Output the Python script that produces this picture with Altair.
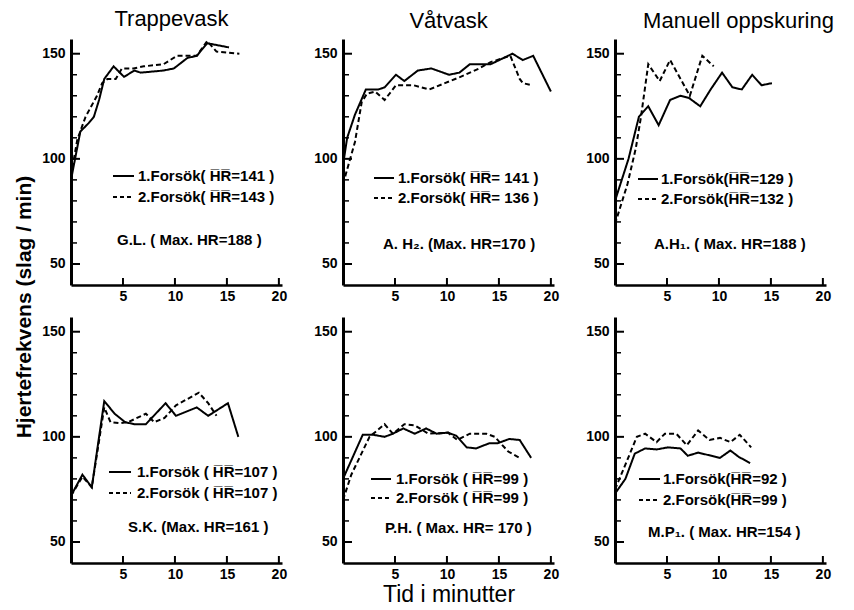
import altair as alt
import pandas as pd

FONT = "Liberation Sans"

# ---------------- data (minutes, beats/min) ----------------
# Trappevask  G.L.
gl_t1 = [0, 0.9, 1.7, 2.2, 2.7, 3.2, 4.1, 5.1, 6.1, 6.7, 8.9, 9.9, 11.2, 12.1, 13.1, 15.2]
gl_v1 = [90, 113, 117, 120, 128, 138, 144, 139, 142, 141, 142, 143, 148, 149, 155, 153]
gl_t2 = [0, 0.6, 1.4, 2.5, 3.0, 3.5, 4.3, 4.9, 6.0, 7.0, 8.9, 10.2, 12.1, 13.1, 14.0, 16.2]
gl_v2 = [92, 109, 120, 130, 136, 138, 138, 143, 143, 144, 145, 149, 149, 156, 151, 150]

# Vatvask  A.H2
ah2_t1 = [0, 0.4, 1.15, 2.2, 3.4, 4.0, 5.1, 5.9, 7.2, 8.5, 10.2, 11.2, 12.2, 14.2, 16.3, 17.3, 18.3, 20.0]
ah2_v1 = [97, 110, 121, 133, 133, 134, 140, 137, 142, 143, 140, 141, 145, 145, 150, 147, 149, 132]
ah2_t2 = [0, 1.15, 1.8, 2.3, 3.1, 4.0, 5.1, 6.8, 8.3, 9.8, 11.3, 13.1, 14.2, 16.1, 17.0, 17.3, 18.2]
ah2_v2 = [88, 108, 127, 131, 132, 128, 135, 135, 133, 136, 139, 143, 146, 149, 138, 136, 135]

# Manuell oppskuring  A.H1
ah1_t1 = [0, 1.3, 2.3, 3.2, 4.2, 5.3, 6.3, 7.1, 8.2, 9.2, 10.3, 11.3, 12.2, 13.2, 14.1, 15.1]
ah1_v1 = [80, 100, 120, 125, 116, 128, 130, 129, 125, 133, 141, 134, 133, 140, 135, 136]
ah1_t2 = [0, 1.2, 2.0, 2.5, 3.2, 4.3, 5.3, 7.2, 8.4, 9.5]
ah1_v2 = [69, 88, 105, 120, 145, 137, 147, 130, 149, 144]

# S.K.
sk_t1 = [0, 1.1, 2.0, 3.2, 4.2, 5.2, 6.1, 7.2, 9.1, 10.1, 12.1, 13.2, 15.1, 16.1]
sk_v1 = [72, 82, 76, 117, 111, 107, 106, 106, 116, 110, 114, 110, 116, 100]
sk_t2 = [0, 1.1, 2.0, 3.2, 3.8, 4.7, 5.5, 7.2, 8.0, 9.0, 10.1, 12.3, 13.2, 14.0]
sk_v2 = [72, 81, 76, 114, 107, 106.5, 107, 111, 107, 109, 115, 121, 116, 110]

# P.H.
ph_t1 = [0, 1.9, 2.9, 4.0, 4.8, 5.8, 6.9, 8.0, 9.0, 10.1, 10.9, 11.9, 12.8, 14.1, 14.9, 16.0, 17.0, 18.1]
ph_v1 = [80, 101, 101, 100, 101.5, 104, 101.5, 104, 101.5, 102, 100.5, 95, 94.5, 97, 97, 99, 98.5, 90]
ph_t2 = [0, 0.8, 2.55, 4.0, 4.8, 5.9, 6.9, 8.2, 10.1, 11.0, 12.2, 13.8, 14.6, 15.9, 17.0]
ph_v2 = [70, 82, 100, 106, 101.5, 106, 105.5, 101.5, 102, 98.5, 101.5, 101.5, 100, 93, 90]

# M.P1
mp1_t1 = [0, 1.0, 1.9, 2.9, 4.0, 5.1, 6.3, 7.0, 8.0, 10.1, 11.1, 11.9, 13.0]
mp1_v1 = [73, 80, 92, 94.5, 94, 95, 94.5, 91, 92.5, 90, 93.5, 90.5, 87.5]
mp1_t2 = [0, 1.1, 2.1, 2.9, 4.0, 4.8, 5.9, 6.9, 8.0, 9.1, 10.1, 11.1, 12.0, 13.1]
mp1_v2 = [75, 88, 100, 101.5, 97.5, 101.5, 101.5, 96, 103, 98.5, 99.5, 97.5, 101, 95]

y_major = [50, 100, 150]
y_minor = [60, 70, 80, 90, 110, 120, 130, 140]
x_ticks = [5, 10, 15, 20]

titles = ["Trappevask", "Våtvask", "Manuell oppskuring"]
x_title = "Tid i minutter"
y_title = "Hjertefrekvens (slag / min)"

W, H = 211, 246
YDOM = [40, 157]
XDOM = [0, 20.3]


def panel(t1, v1, t2, v2, labels, lx, tx, ix, ys, title=None, title_dx=0, xtitle=None):
    df = pd.DataFrame({
        "t": t1 + t2,
        "hr": v1 + v2,
        "trial": ["1"] * len(t1) + ["2"] * len(t2),
    })
    xaxis_kw = dict(values=x_ticks, ticks=False, domainColor="black", domainWidth=2.5,
                    labelFont=FONT, labelFontWeight="bold", labelFontSize=14,
                    labelColor="black", labelPadding=4, grid=False, format="d")
    if xtitle:
        xaxis_kw.update(titleFont=FONT, titleFontSize=23, titleFontWeight="normal",
                        titleColor="black", titlePadding=2)
    xscale = alt.Scale(domain=XDOM, nice=False, zero=False)
    yscale = alt.Scale(domain=YDOM, nice=False, zero=False)
    xaxis = alt.Axis(**xaxis_kw)
    yaxis = alt.Axis(values=y_major, ticks=False, domainColor="black", domainWidth=3,
                     labelFont=FONT, labelFontWeight="bold", labelFontSize=14,
                     labelColor="black", labelPadding=6, grid=False,
                     minExtent=30, maxExtent=30)
    xt_title = xtitle if xtitle else None

    def X():
        return alt.X("t:Q", scale=xscale, axis=xaxis, title=xt_title)

    def Y():
        return alt.Y("hr:Q", scale=yscale, axis=yaxis, title=None)

    lines = alt.Chart(df).mark_line(color="black", strokeWidth=2).encode(
        x=X(), y=Y(),
        strokeDash=alt.StrokeDash("trial:N", scale=alt.Scale(domain=["1", "2"], range=[[1, 0], [5, 3]]),
                                  legend=None),
    )
    ymaj = alt.Chart(pd.DataFrame({"hr": y_major})).mark_rule(color="black", strokeWidth=2).encode(
        y=Y(), x=alt.value(0), x2=alt.value(9))
    ymin = alt.Chart(pd.DataFrame({"hr": y_minor})).mark_rule(color="black", strokeWidth=1.5).encode(
        y=Y(), x=alt.value(0), x2=alt.value(6))
    xt = alt.Chart(pd.DataFrame({"t": x_ticks})).mark_rule(color="black", strokeWidth=2).encode(
        x=X(), y=alt.value(H), y2=alt.value(H - 7))
    one = pd.DataFrame({"k": [0]})
    s1 = alt.Chart(one).mark_rule(color="black", strokeWidth=2).encode(
        x=alt.value(lx[0]), x2=alt.value(lx[1]), y=alt.value(ys[0]))
    s2 = alt.Chart(one).mark_rule(color="black", strokeWidth=2, strokeDash=[4, 3]).encode(
        x=alt.value(lx[0]), x2=alt.value(lx[1]), y=alt.value(ys[1]))
    texts = []
    for lab, xx, yy in zip(labels, [tx, tx, ix], ys):
        texts.append(
            alt.Chart(pd.DataFrame({"label": [lab]})).mark_text(
                align="left", baseline="middle", font=FONT, fontWeight="bold", fontSize=15,
                color="black").encode(x=alt.value(xx), y=alt.value(yy), text="label:N"))
    props = dict(width=W, height=H)
    if title:
        props["title"] = alt.TitleParams(title, font=FONT, fontSize=22, fontWeight="normal",
                                         color="black", anchor="middle", dx=title_dx, offset=6)
    return alt.layer(lines, ymaj, ymin, xt, s1, s2, *texts).properties(**props)


p1 = panel(gl_t1, gl_v1, gl_t2, gl_v2,
           ["1.Forsök( H̅R̅=141 )", "2.Forsök( H̅R̅=143 )", "G.L.  ( Max. HR=188 )"],
           (42, 63), 67, 46, (137, 158, 201), title=titles[0], title_dx=-5)
p2 = panel(ah2_t1, ah2_v1, ah2_t2, ah2_v2,
           ["1.Forsök( H̅R̅= 141 )", "2.Forsök( H̅R̅= 136 )", "A. H₂.  (Max. HR=170 )"],
           (31, 51), 55, 40, (139, 159, 205), title=titles[1])
p3 = panel(ah1_t1, ah1_v1, ah1_t2, ah1_v2,
           ["1.Forsök(H̅R̅=129 )", "2.Forsök(H̅R̅=132 )", "A.H₁. ( Max. HR=188 )"],
           (23, 43), 46, 39, (140, 160, 205), title=titles[2], title_dx=18)
p4 = panel(sk_t1, sk_v1, sk_t2, sk_v2,
           ["1.Forsök ( H̅R̅=107 )", "2.Forsök ( H̅R̅=107 )", "S.K. (Max. HR=161 )"],
           (38, 60), 66, 57, (155, 176, 210))
p5 = panel(ph_t1, ph_v1, ph_t2, ph_v2,
           ["1.Forsök ( H̅R̅=99 )", "2.Forsök ( H̅R̅=99 )", "P.H. ( Max. HR= 170 )"],
           (28, 48), 53, 42, (162, 181, 211), xtitle=x_title)
p6 = panel(mp1_t1, mp1_v1, mp1_t2, mp1_v2,
           ["1.Forsök(H̅R̅=92 )", "2.Forsök(H̅R̅=99 )", "M.P₁. ( Max. HR=154 )"],
           (24, 45), 48, 33, (162, 183, 215))

top = alt.hconcat(p1, p2, p3, spacing=24)
bottom = alt.hconcat(p4, p5, p6, spacing=24)

chart = alt.vconcat(top, bottom, spacing=12).properties(
    title=alt.TitleParams(y_title, orient="left", anchor="middle", font=FONT, fontSize=21,
                          fontWeight="bold", color="black", offset=6),
    padding={"left": 13, "top": 7, "right": 5, "bottom": 5},
    background="white",
).configure_view(stroke="transparent")

chart.save("out.html", embed_options={"renderer": "svg", "actions": False})
